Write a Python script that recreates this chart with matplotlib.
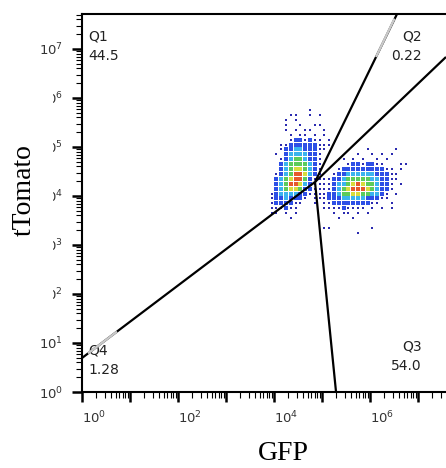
import numpy as np
import matplotlib
matplotlib.use("Agg")
import matplotlib.pyplot as plt
from matplotlib.patches import Rectangle
from matplotlib.ticker import FixedLocator, LogLocator, NullFormatter

plt.rcParams["font.family"] = ["DejaVu Sans"]
plt.rcParams["mathtext.default"] = "regular"

# ---------------------------------------------------------------- data
x_decades = [0, 1, 2, 3, 4, 5, 6, 7]
x_tick_labels = ["$10^{0}$", "", "$10^{2}$", "", "$10^{4}$", "", "$10^{6}$", ""]
y_decades = [0, 1, 2, 3, 4, 5, 6, 7]
y_tick_labels = ["$10^{%d}$" % d for d in y_decades]

quadrant_names = ["Q1", "Q2", "Q3", "Q4"]
quadrant_pcts = ["44.5", "0.22", "54.0", "1.28"]

# event density (0 = empty, 1 = sparse, 6 = densest), 0.1-decade bins
grid_x0, grid_y_top, grid_step = 3.8, 5.9, 0.1
density_rows = [
    "",
    "000000000100000000000000000000",
    "000001100101000000000000000000",
    "000010100000000000000000000000",
    "000010010011000000000000000000",
    "000010101100100000000000000000",
    "000001011010100000000000000000",
    "000001221211010000000000000000",
    "000112222221110000000000000000",
    "000122332221100000000100000100",
    "001023333221000000010010101000",
    "00012344322100001010100101",
    "000234444321000001221221100011",
    "000234554321000122222222211010",
    "001234665321001223333332221100",
    "002345664211112234444433221100",
    "002346653211112334565443221010",
    "002345542211112345666543221000",
    "012333322111122344554433210100",
    "012232221011122233333222110000",
    "012222110010112222222211001000",
    "011121100000111121111010101000",
    "0110101000000010110101",
    "0000010000000001001",
    "",
    "00000000000011000000001",
    "00000000000000000001",
]

# gate: log10 coordinates of the shared vertex and the four arm ends
gate_center = (4.854, 4.286)
gate_arms = [(6.5625, 7.714), (7.583, 6.837), (5.292, 0.0), (0.0, 0.694)]
# lighter stretches along two arms
gate_light = [((6.125, 6.837), (6.51, 7.62)), ((0.125, 0.787), (0.729, 1.233))]

x_max_log, y_max_log = 7.583, 7.714

# ---------------------------------------------------------------- figure
W, H = 446, 468
fig = plt.figure(figsize=(W / 100, H / 100), dpi=100)
ax = fig.add_axes([82 / W, 76 / H, 364 / W, 378 / H])
ax.set_xscale("log")
ax.set_yscale("log")
ax.set_xlim(1, 10 ** x_max_log)
ax.set_ylim(1, 10 ** y_max_log)

# density dots
level_colors = {1: "#2b2bb0", 2: "#2d4fe6", 3: "#3ab4ee", 4: "#5ccc5a",
                5: "#d9dc3a", 6: "#e65a2a"}
level_sizes = {1: 2.6, 2: 7.5, 3: 12.5, 4: 12.5, 5: 12.5, 6: 12.5}
for lvl in range(1, 7):
    xs, ys = [], []
    for r, row in enumerate(density_rows):
        for c, ch in enumerate(row.ljust(30, "0")):
            if int(ch) == lvl:
                xs.append(10 ** (grid_x0 + grid_step * (c + 0.5)))
                ys.append(10 ** (grid_y_top - grid_step * (r + 0.5)))
    ax.scatter(xs, ys, s=level_sizes[lvl], marker="s", c=level_colors[lvl],
               linewidths=0, zorder=2)

# gate lines
for end in gate_arms:
    ax.plot([10 ** gate_center[0], 10 ** end[0]],
            [10 ** gate_center[1], 10 ** end[1]],
            color="black", lw=1.6, zorder=3, solid_capstyle="butt")
for a, b in gate_light:
    ax.plot([10 ** a[0], 10 ** b[0]], [10 ** a[1], 10 ** b[1]],
            color="#c9c9c9", lw=1.7, zorder=4, solid_capstyle="butt")

# quadrant annotations
qkw = dict(transform=ax.transAxes, fontsize=10, color="#222222", linespacing=1.5)
ax.text(0.0165, 0.96, f"{quadrant_names[0]}\n{quadrant_pcts[0]}", ha="left", va="top", **qkw)
ax.text(0.934, 0.96, f"{quadrant_names[1]}\n{quadrant_pcts[1]}", ha="right", va="top",
        multialignment="right", **qkw)
ax.text(0.934, 0.05, f"{quadrant_names[2]}\n{quadrant_pcts[2]}", ha="right", va="bottom",
        multialignment="right", **qkw)
ax.text(0.0165, 0.040, f"{quadrant_names[3]}\n{quadrant_pcts[3]}", ha="left", va="bottom", **qkw)

# axes styling
for side in ("left", "bottom", "top"):
    ax.spines[side].set_linewidth(1.5)
ax.spines["right"].set_visible(False)

ax.xaxis.set_major_locator(FixedLocator([10.0 ** d for d in x_decades]))
ax.yaxis.set_major_locator(FixedLocator([10.0 ** d for d in y_decades]))
ax.set_xticklabels(x_tick_labels)
ax.set_yticklabels(y_tick_labels)
ax.xaxis.set_minor_locator(LogLocator(base=10, subs=np.arange(2, 10), numticks=20))
ax.yaxis.set_minor_locator(LogLocator(base=10, subs=np.arange(2, 10), numticks=20))
ax.xaxis.set_minor_formatter(NullFormatter())
ax.yaxis.set_minor_formatter(NullFormatter())
ax.tick_params(which="major", length=7, width=1.8, labelsize=9.5,
               labelcolor="#333333")
ax.tick_params(axis="x", which="major", pad=6)
ax.tick_params(axis="y", which="major", pad=6.5)
ax.tick_params(which="minor", length=4.3, width=0.8)
ax.tick_params(top=False, right=False, which="both")
for lab in ax.get_xticklabels():
    lab.set_horizontalalignment("left")

# axis titles
fig.patches.append(Rectangle((0, (H - 305) / H), 53 / W, 220 / H,
                             transform=fig.transFigure, facecolor="white",
                             edgecolor="none", zorder=5))
fig.text(24 / W, 1 - 190 / H, "tTomato", rotation=90, ha="center", va="center",
         family="Liberation Serif", fontsize=20, zorder=6)
fig.text(283 / W, 1 - 453 / H, "GFP", ha="center", va="center",
         family="Liberation Serif", fontsize=20, zorder=6)

fig.savefig("out.png", dpi=100)
